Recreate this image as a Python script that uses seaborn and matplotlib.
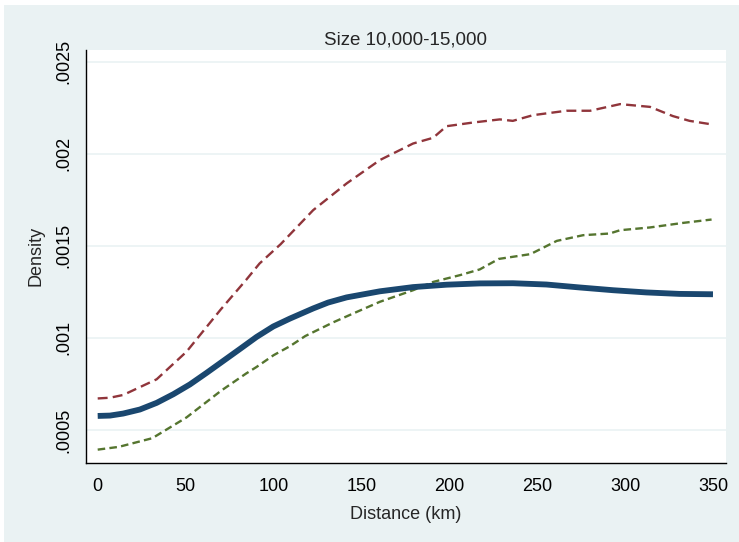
import matplotlib
matplotlib.use("Agg")
import matplotlib.pyplot as plt
import seaborn as sns
from matplotlib.patches import Rectangle

# ---- data ----
mean_x = [0, 7, 14.5, 24, 33.5, 43, 52.4, 61.9, 71.4, 80.9, 90.3, 99.8, 109.3, 122.5,
          131, 141.5, 160.4, 179.3, 198.3, 217.2, 236.1, 255.1, 274, 293, 311.9, 330.8, 349.8]
mean_y = [0.000576, 0.000578, 0.000589, 0.000611, 0.000647, 0.000694, 0.000747, 0.00081,
          0.000875, 0.00094, 0.001005, 0.001062, 0.001105, 0.00116, 0.001192, 0.00122,
          0.001253, 0.001276, 0.001289, 0.001296, 0.001297, 0.00129, 0.001274, 0.001259,
          0.001247, 0.001239, 0.001237]

upper_x = [0, 7, 14.5, 33.5, 50.5, 70, 84.3, 92, 104, 122.5, 141.5, 160.4, 179.3, 190.7,
           198.3, 213.4, 228.6, 236, 247.5, 266.5, 280, 297, 314, 327, 336.5, 349]
upper_y = [0.000671, 0.000675, 0.00069, 0.000775, 0.000925, 0.001155, 0.001314, 0.001404,
           0.001509, 0.001694, 0.001839, 0.001966, 0.002056, 0.002087, 0.00215, 0.00217,
           0.002187, 0.002179, 0.00221, 0.002234, 0.002234, 0.00227, 0.002255, 0.002205,
           0.002179, 0.00216]

lower_x = [0, 12, 31, 50.5, 70, 84.3, 90.3, 100, 109.3, 118, 134, 147, 160.4, 179.3,
           190.7, 206, 217.2, 228, 246, 261, 276, 291, 297, 314, 333, 349]
lower_y = [0.000393, 0.000408, 0.000455, 0.000568, 0.000712, 0.000806, 0.000842, 0.000906,
           0.000955, 0.00101, 0.001085, 0.00114, 0.001196, 0.001259, 0.001304, 0.001341,
           0.001372, 0.001429, 0.001455, 0.001527, 0.001558, 0.001567, 0.001585, 0.0016,
           0.001625, 0.001643]

x_ticks = [0, 50, 100, 150, 200, 250, 300, 350]
y_ticks = [0.0005, 0.001, 0.0015, 0.002, 0.0025]
y_ticklabels = [".0005", ".001", ".0015", ".002", ".0025"]

title = "Size 10,000-15,000"
xlabel = "Distance (km)"
ylabel = "Density"

# ---- style ----
BG = "#EAF2F3"
sns.set_style("white")
plt.rcParams["font.family"] = ["Liberation Sans", "DejaVu Sans"]

fig = plt.figure(figsize=(7.39, 5.42), dpi=100, facecolor="white")
fig.patches.append(Rectangle((4 / 739, 0), 1, 1 - 5 / 542, transform=fig.transFigure,
                             facecolor=BG, edgecolor="none", zorder=-10))

ax = fig.add_axes([86 / 739, 1 - 462.7 / 542, (726 - 86) / 739, (462.7 - 50) / 542])
ax.set_facecolor("white")

sns.lineplot(x=upper_x, y=upper_y, ax=ax, color="#90353B", linewidth=1.7,
             linestyle=(0, (4.2, 2.2)), errorbar=None, sort=True)
sns.lineplot(x=lower_x, y=lower_y, ax=ax, color="#55752F", linewidth=1.7,
             linestyle=(0, (3.2, 1.8)), errorbar=None, sort=True)
sns.lineplot(x=mean_x, y=mean_y, ax=ax, color="#1A476F", linewidth=4.2,
             errorbar=None, sort=True, solid_capstyle="butt", solid_joinstyle="round")

ax.set_xlim(-6.65, 357.2)
ax.set_ylim(0.000322, 0.002564)
ax.set_xticks(x_ticks)
ax.set_xticklabels([str(v) for v in x_ticks])
ax.set_yticks(y_ticks)
ax.set_yticklabels(y_ticklabels, rotation=90, va="center")

ax.yaxis.grid(True, color=BG, linewidth=1.2)
ax.xaxis.grid(False)
ax.set_axisbelow(True)

for s in ["top", "right"]:
    ax.spines[s].set_visible(False)
for s in ["left", "bottom"]:
    ax.spines[s].set_color("black")
    ax.spines[s].set_linewidth(1.0)

ax.tick_params(axis="x", which="major", length=5.5, width=0.8, color="#333333",
               labelsize=13, labelcolor="black", direction="out", pad=5.5)
ax.tick_params(axis="y", which="major", length=6.5, width=0.8, color="#333333",
               labelsize=13, labelcolor="black", direction="out", pad=3)

ax.set_title(title, fontsize=13.5, pad=4)
ax.set_xlabel(xlabel, fontsize=13, labelpad=8)
ax.set_ylabel(ylabel, fontsize=13, labelpad=8)

fig.savefig("out.png", dpi=100, facecolor=fig.get_facecolor())
